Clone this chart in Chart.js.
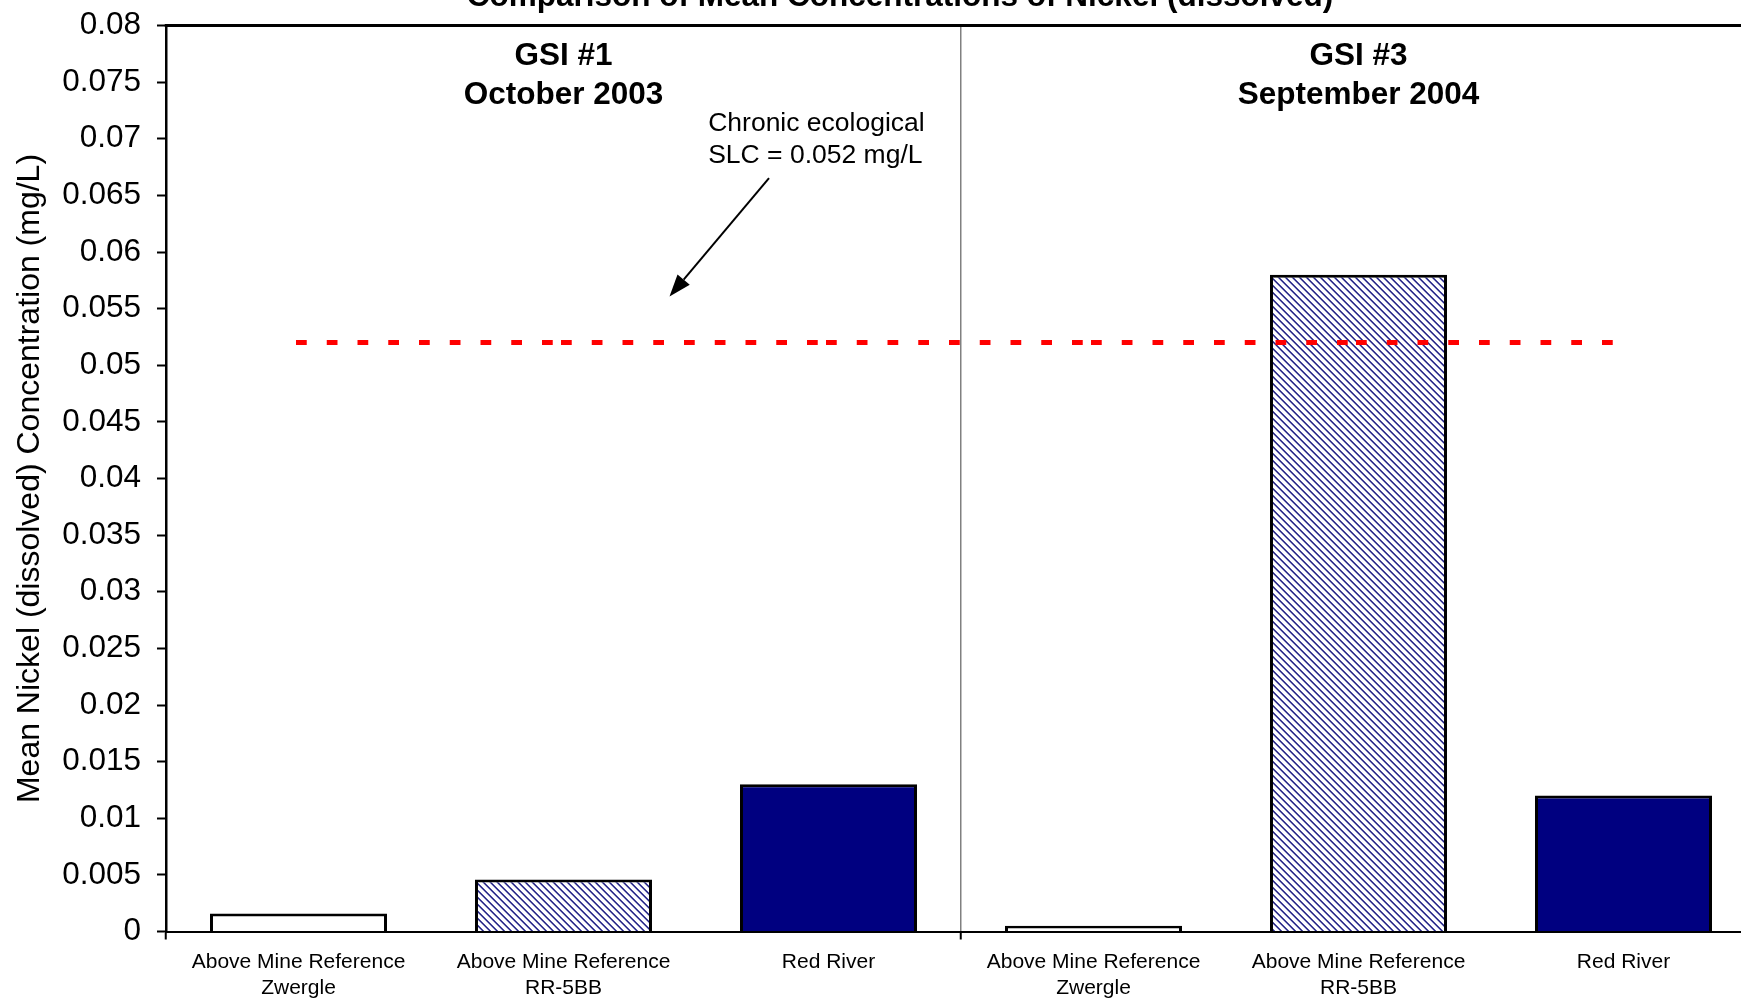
<!DOCTYPE html>
<html>
<head>
<meta charset="utf-8">
<title>Nickel (dissolved) – GSI comparison</title>
<style>
  html, body { margin: 0; padding: 0; overflow: hidden; background: #ffffff; width: 1741px; height: 1002px; }
  #chart { display: block; position: absolute; left: 0; top: 0; }
</style>
</head>
<body>
<canvas id="chart" width="1800" height="1002"></canvas>
<script src="https://cdn.jsdelivr.net/npm/chart.js@4/dist/chart.umd.min.js"></script>
<script>
// Sampling stations, two survey rounds of three stations each
const categories = [
  ['Above Mine Reference', 'Zwergle'],
  ['Above Mine Reference', 'RR-5BB'],
  'Red River',
  ['Above Mine Reference', 'Zwergle'],
  ['Above Mine Reference', 'RR-5BB'],
  'Red River'
];

// Mean dissolved nickel, mg/L
const nickelMeans = [0.0016, 0.0046, 0.013, 0.0005, 0.058, 0.012];

// Chronic ecological screening level, mg/L
const chronicSLC = [0.052, 0.052, 0.052, 0.052, 0.052, 0.052];

const yTickLabels = ['0', '0.005', '0.01', '0.015', '0.02', '0.025', '0.03', '0.035', '0.04',
  '0.045', '0.05', '0.055', '0.06', '0.065', '0.07', '0.075', '0.08'];

const surveyHeaders = [['GSI #1', 'October 2003'], ['GSI #3', 'September 2004']];
const surveyCenters = [1, 4];

const chartTitle = 'Comparison of Mean Concentrations of Nickel (dissolved)';
const yAxisTitle = 'Mean Nickel (dissolved) Concentration (mg/L)';
const slcNote = ['Chronic ecological', 'SLC = 0.052 mg/L'];

const FONT = '"Liberation Sans", Arial, Helvetica, sans-serif';
const NAVY = '#000080';

const canvas = document.getElementById('chart');
const ctx = canvas.getContext('2d');

// Diagonal navy/white hatch used for the RR-5BB reference station
function makeHatch() {
  const P = 7;
  const tile = document.createElement('canvas');
  tile.width = P; tile.height = P;
  const g = tile.getContext('2d');
  const img = g.createImageData(P, P);
  for (let y = 0; y < P; y++) {
    for (let x = 0; x < P; x++) {
      const d = (((x - y) % P) + P) % P;
      let c = [255, 255, 255];
      if (d === 0) c = [36, 36, 128];
      else if (d === 1) c = [92, 92, 172];
      else if (d === 6) c = [160, 160, 210];
      const k = (y * P + x) * 4;
      img.data[k] = c[0]; img.data[k + 1] = c[1]; img.data[k + 2] = c[2]; img.data[k + 3] = 255;
    }
  }
  g.putImageData(img, 0, 0);
  return ctx.createPattern(tile, 'repeat');
}
const hatch = makeHatch();
const barFills = ['#ffffff', hatch, NAVY, '#ffffff', hatch, NAVY];

// Plot frame, title, survey headers and the SLC callout
const decorations = {
  id: 'decorations',
  afterDraw(chart) {
    const c = chart.ctx;
    const area = chart.chartArea;
    const xs = chart.scales.x;
    const ys = chart.scales.y;
    c.save();

    // top edge of the plot frame
    c.strokeStyle = '#000';
    c.lineWidth = 3;
    c.beginPath();
    c.moveTo(area.left - 1.25, area.top);
    c.lineTo(area.right, area.top);
    c.stroke();

    // chart title
    c.fillStyle = '#000';
    c.font = 'bold 31.5px ' + FONT;
    c.textAlign = 'center';
    c.textBaseline = 'alphabetic';
    c.fillText(chartTitle, 900, 6);

    // survey headers
    c.textBaseline = 'middle';
    surveyHeaders.forEach((lines, i) => {
      const x = xs.getPixelForValue(surveyCenters[i]);
      c.fillText(lines[0], x, ys.getPixelForValue(0.0773));
      c.fillText(lines[1], x, ys.getPixelForValue(0.0738));
    });

    // SLC callout text
    c.font = '26.5px ' + FONT;
    c.textAlign = 'left';
    const noteX = xs.getPixelForValue(1.546);
    c.fillText(slcNote[0], noteX, ys.getPixelForValue(0.0713));
    c.fillText(slcNote[1], noteX, ys.getPixelForValue(0.0685));

    // arrow pointing at the SLC line
    const x0 = xs.getPixelForValue(1.7755), y0 = ys.getPixelForValue(0.06653);
    const x1 = xs.getPixelForValue(1.4), y1 = ys.getPixelForValue(0.05607);
    const ang = Math.atan2(y1 - y0, x1 - x0);
    const headLen = 22, headHalf = 8;
    const bx = x1 - headLen * Math.cos(ang), by = y1 - headLen * Math.sin(ang);
    c.lineWidth = 2;
    c.beginPath();
    c.moveTo(x0, y0);
    c.lineTo(bx, by);
    c.stroke();
    c.beginPath();
    c.moveTo(x1, y1);
    c.lineTo(bx + headHalf * Math.sin(ang), by - headHalf * Math.cos(ang));
    c.lineTo(bx - headHalf * Math.sin(ang), by + headHalf * Math.cos(ang));
    c.closePath();
    c.fill();

    c.restore();
  }
};

new Chart(ctx, {
  data: {
    labels: categories,
    datasets: [
      {
        type: 'line',
        label: 'Chronic ecological SLC',
        data: chronicSLC,
        borderColor: '#ff0000',
        borderWidth: 5,
        borderDash: [5.75, 25],
        borderCapStyle: 'square',
        pointRadius: 0,
        fill: false,
        order: 1,
        // restart the dash pattern at every station
        segment: { borderDashOffset: s => (s.p0DataIndex % 2) * 0.001 }
      },
      {
        type: 'bar',
        label: 'Mean nickel (dissolved)',
        data: nickelMeans,
        backgroundColor: barFills,
        borderColor: '#000000',
        borderWidth: 3,
        barPercentage: 0.668,
        categoryPercentage: 1,
        order: 2
      }
    ]
  },
  options: {
    responsive: false,
    devicePixelRatio: 1,
    animation: false,
    layout: { padding: { top: 25.5, right: 44, bottom: 0, left: 0 } },
    plugins: {
      legend: { display: false },
      tooltip: { enabled: false },
      title: { display: false }
    },
    scales: {
      x: {
        offset: true,
        grid: {
          offset: true,
          drawOnChartArea: true,
          color: g => (g.index === 3 ? '#808080' : 'rgba(0,0,0,0)'),
          lineWidth: 1.5,
          tickColor: g => (g.index !== undefined && g.index % 3 === 0 ? '#000' : 'rgba(0,0,0,0)'),
          tickWidth: 2,
          tickLength: 8
        },
        border: { display: true, color: '#000', width: 2 },
        ticks: {
          color: '#000',
          font: { family: FONT, size: 21, lineHeight: 1.26 },
          padding: 9,
          maxRotation: 0,
          autoSkip: false
        },
        afterFit: s => { s.height = 70.5; }
      },
      y: {
        min: 0,
        max: 0.08,
        ticks: {
          stepSize: 0.005,
          color: '#000',
          font: { family: FONT, size: 31.5 },
          padding: 16,
          callback: (v, i) => yTickLabels[i]
        },
        grid: { drawOnChartArea: false, tickLength: 9, tickColor: '#000', tickWidth: 2 },
        border: { display: true, color: '#000', width: 2.5 },
        title: {
          display: true,
          text: yAxisTitle,
          color: '#000',
          font: { family: FONT, size: 32 },
          padding: { top: 11, bottom: 0 }
        },
        afterFit: s => { s.width = 166; s.paddingTop = 0; s.paddingBottom = 0; }
      }
    }
  },
  plugins: [decorations]
});
</script>
</body>
</html>
